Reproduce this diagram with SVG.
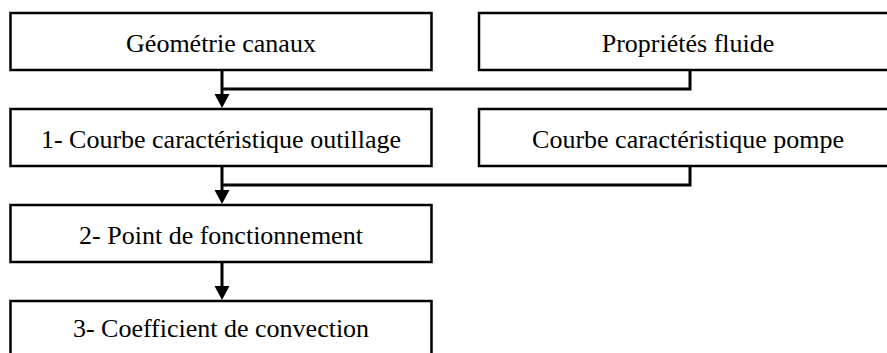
<svg xmlns="http://www.w3.org/2000/svg" width="887" height="353" viewBox="0 0 887 353">
<defs>
<style>
.box{fill:#fff;stroke:#000;stroke-width:2.5}
.lbl{font-family:"Liberation Serif","Times New Roman",serif;font-size:26px;fill:#000;text-anchor:middle}
.ln{fill:none;stroke:#000;stroke-width:3}
.ah{fill:#000}
</style>
</defs>
<rect width="887" height="353" fill="#fff"/>
<g id="connectors">
<polyline class="ln" points="222,70 222,95"/>
<polyline class="ln" points="690,70 690,89 222,89"/>
<polygon class="ah" points="214.5,94 229.5,94 222,108"/>
<polyline class="ln" points="222,166 222,191"/>
<polyline class="ln" points="690,166 690,185 222,185"/>
<polygon class="ah" points="214.5,190 229.5,190 222,204"/>
<polyline class="ln" points="222,262 222,287"/>
<polygon class="ah" points="214.5,286 229.5,286 222,300"/>
</g>
<g id="geometrie">
<rect class="box" x="10.5" y="13" width="421" height="57"/>
<text class="lbl" x="221" y="51.5">Géométrie canaux</text>
</g>
<g id="proprietes">
<rect class="box" x="479" y="13" width="420" height="57"/>
<text class="lbl" x="688" y="51.5">Propriétés fluide</text>
</g>
<g id="courbe-outillage">
<rect class="box" x="10.5" y="109" width="421" height="57"/>
<text class="lbl" x="221" y="148">1- Courbe caractéristique outillage</text>
</g>
<g id="courbe-pompe">
<rect class="box" x="479" y="109" width="420" height="57"/>
<text class="lbl" x="688" y="148">Courbe caractéristique pompe</text>
</g>
<g id="point">
<rect class="box" x="10.5" y="205" width="421" height="57"/>
<text class="lbl" x="221" y="244">2- Point de fonctionnement</text>
</g>
<g id="coefficient">
<rect class="box" x="10.5" y="301" width="421" height="70"/>
<text class="lbl" x="221" y="337">3- Coefficient de convection</text>
</g>
</svg>
